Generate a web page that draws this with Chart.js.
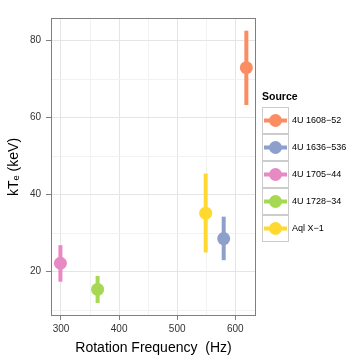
<!DOCTYPE html>
<html>
<head>
<meta charset="utf-8">
<script src="https://cdn.jsdelivr.net/npm/chart.js@4"></script>
<style>
html, body { margin: 0; padding: 0; background: #fff; }
</style>
</head>
<body>
<canvas id="c" width="357" height="357"></canvas>
<script>
const sources = ['4U 1608\u221252', '4U 1636\u2212536', '4U 1705\u221244', '4U 1728\u221234', 'Aql X\u22121'];
const colors = ['#FC8D62', '#8DA0CB', '#E78AC3', '#A6D854', '#FFD92F'];
const freq = [619, 580, 299, 363, 549];
const kTe = [73.0, 28.6, 22.2, 15.4, 35.2];
const kTeLow = [63.3, 23.0, 17.4, 11.9, 25.0];
const kTeHigh = [82.6, 34.3, 26.9, 18.9, 45.5];
const xTicks = [300, 350, 400, 450, 500, 550, 600];
const yTicks = [10, 20, 30, 40, 50, 60, 70, 80];

const FONT = 'Liberation Sans';

const datasets = [];
sources.forEach((s, i) => {
    // error bar
    datasets.push({
        label: s + ' err',
        data: [{ x: freq[i], y: kTeLow[i] }, { x: freq[i], y: kTeHigh[i] }],
        showLine: true,
        borderColor: colors[i],
        borderWidth: 4,
        pointRadius: 0,
        borderCapStyle: 'butt'
    });
    datasets.push({
        label: s,
        data: [{ x: freq[i], y: kTe[i] }],
        backgroundColor: colors[i],
        borderColor: colors[i],
        pointRadius: 6.5,
        borderWidth: 0
    });
});

// panel border + legend drawn like ggplot
const ggExtras = {
    id: 'ggExtras',
    afterDraw(chart) {
        const c = chart.ctx;
        const a = chart.chartArea;
        c.save();
        c.strokeStyle = '#7f7f7f';
        c.lineWidth = 1;
        c.strokeRect(Math.round(a.left) + 0.5, Math.round(a.top) + 0.5,
            Math.round(a.right - a.left) - 1, Math.round(a.bottom - a.top) - 1);

        // legend
        c.fillStyle = '#000';
        c.font = 'bold 10.5px ' + FONT;
        c.textBaseline = 'middle';
        c.fillText('Source', 262, 97);
        const bx = 262, by = 107, bs = 27;
        sources.forEach((s, i) => {
            const y = by + i * bs;
            c.fillStyle = '#fff';
            c.fillRect(bx, y, bs, bs);
            c.strokeStyle = '#cccccc';
            c.lineWidth = 1;
            c.strokeRect(bx + 0.5, y + 0.5, bs - 1, bs - 1);
            c.strokeStyle = colors[i];
            c.lineWidth = 4;
            c.beginPath();
            c.moveTo(bx + 2, y + bs / 2);
            c.lineTo(bx + bs - 2, y + bs / 2);
            c.stroke();
            c.fillStyle = colors[i];
            c.beginPath();
            c.arc(bx + bs / 2, y + bs / 2, 6.5, 0, Math.PI * 2);
            c.fill();
            c.fillStyle = '#000';
            c.font = '9px ' + FONT;
            c.fillText(s, 292, y + bs / 2 + 0.5);
        });
        c.restore();
    }
};

new Chart(document.getElementById('c'), {
    type: 'scatter',
    data: { datasets },
    plugins: [ggExtras],
    options: {
        responsive: false,
        animation: false,
        devicePixelRatio: 1,
        layout: { padding: { top: 18, right: 101, bottom: 0, left: 0 } },
        plugins: { legend: { display: false }, tooltip: { enabled: false } },
        scales: {
            x: {
                type: 'linear',
                min: 282.8,
                max: 635.6,
                afterBuildTicks: s => { s.ticks = xTicks.map(v => ({ value: v })); },
                afterFit: s => { s.height = 41; },
                ticks: {
                    callback: v => v % 100 === 0 ? v : '',
                    font: { size: 10, family: FONT },
                    color: '#333',
                    padding: 3,
                    maxRotation: 0,
                    autoSkip: false
                },
                grid: {
                    color: c => c.tick && c.tick.value % 100 === 0 ? '#e5e5e5' : '#f2f2f2',
                    tickColor: c => c.tick && c.tick.value % 100 === 0 ? '#7f7f7f' : 'rgba(0,0,0,0)',
                    tickLength: 4
                },
                border: { display: false },
                title: {
                    display: true,
                    text: 'Rotation Frequency  (Hz)',
                    font: { size: 14, family: FONT },
                    color: '#000',
                    padding: { top: 0, bottom: 0 }
                }
            },
            y: {
                type: 'linear',
                min: 8.5,
                max: 85.9,
                afterBuildTicks: s => { s.ticks = yTicks.map(v => ({ value: v })); },
                afterFit: s => { s.width = 51; },
                ticks: {
                    callback: v => v % 20 === 0 ? v : '',
                    font: { size: 10, family: FONT },
                    color: '#333',
                    padding: 5
                },
                grid: {
                    color: c => c.tick && c.tick.value % 20 === 0 ? '#e5e5e5' : '#f2f2f2',
                    tickColor: c => c.tick && c.tick.value % 20 === 0 ? '#7f7f7f' : 'rgba(0,0,0,0)',
                    tickLength: 5
                },
                border: { display: false },
                title: {
                    display: true,
                    text: 'kT\u2091 (keV)',
                    font: { size: 14, family: FONT },
                    color: '#000',
                    padding: { top: 6, bottom: 0 }
                }
            }
        }
    }
});
</script>
</body>
</html>
